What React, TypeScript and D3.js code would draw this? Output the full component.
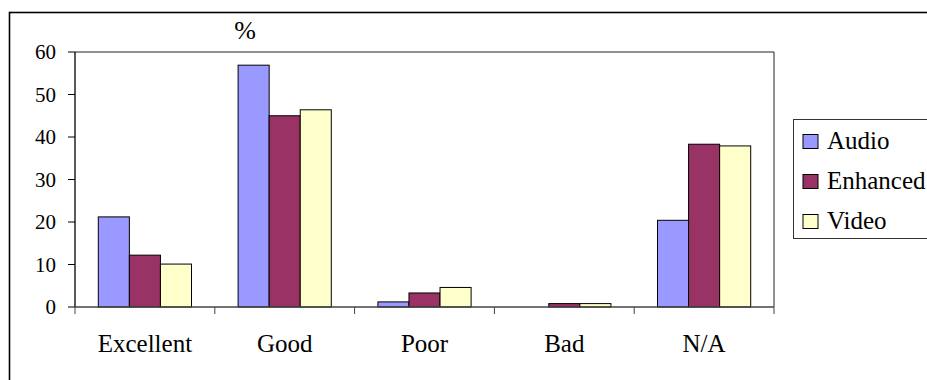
import React from 'react'
import * as d3 from 'd3'

const categories = ['Excellent', 'Good', 'Poor', 'Bad', 'N/A']
const seriesNames = ['Audio', 'Enhanced', 'Video']
const audio = [21.2, 56.9, 1.2, 0, 20.4]
const enhanced = [12.2, 45.0, 3.3, 0.8, 38.3]
const video = [10.1, 46.4, 4.6, 0.8, 37.9]
const yTicks = [0, 10, 20, 30, 40, 50, 60]
const colors = ['#9999FF', '#993366', '#FFFFCC']

const W = 927
const H = 380
const plot = { left: 75, top: 52, right: 774, bottom: 307 }
const font = "'Liberation Serif', 'Times New Roman', Times, serif"

const App: React.FC = () => {
  const values = [audio, enhanced, video]

  const x = d3
    .scaleBand<string>()
    .domain(categories)
    .range([plot.left, plot.right])
    .paddingInner(0)
    .paddingOuter(0)

  const step = x.step()
  const barW = step / 4.5 // excel gap width 150%

  const inner = d3
    .scaleBand<string>()
    .domain(seriesNames)
    .range([0, barW * 3])

  const y = d3.scaleLinear().domain([0, 60]).range([plot.bottom, plot.top])

  const catTicks = d3.range(categories.length + 1).map((i) => plot.left + i * step)

  const txt = { fontFamily: font }

  return (
    <svg
      width={W}
      height={H}
      style={{ position: 'fixed', left: 0, top: 0, background: '#fff', fontFamily: font }}
    >
      {/* chart frame, clipped by the window on right and bottom */}
      <rect x={9.5} y={12.5} width={W + 20} height={H + 20} fill="#fff" stroke="#000" strokeWidth={1.6} />

      <text x={245} y={39} fontSize={26} textAnchor="middle" fill="#000" style={txt}>%</text>

      {/* plot area border top / right */}
      <line x1={plot.left} x2={plot.right} y1={plot.top} y2={plot.top} stroke="#222" strokeWidth={1} />
      <line x1={plot.right} x2={plot.right} y1={plot.top} y2={plot.bottom} stroke="#222" strokeWidth={1} />

      {/* bars */}
      {categories.map((c, ci) => {
        const x0 = (x(c) ?? 0) + (step - barW * 3) / 2
        return (
          <g key={c}>
            {seriesNames.map((s, si) => {
              const v = values[si][ci]
              if (v <= 0) return null
              return (
                <rect
                  key={s}
                  x={x0 + (inner(s) ?? 0)}
                  y={y(v)}
                  width={barW}
                  height={plot.bottom - y(v)}
                  fill={colors[si]}
                  stroke="#000"
                  strokeWidth={1}
                />
              )
            })}
          </g>
        )
      })}

      {/* y axis */}
      <line x1={plot.left} x2={plot.left} y1={plot.top} y2={plot.bottom} stroke="#000" strokeWidth={1.3} />
      {yTicks.map((t) => (
        <g key={t}>
          <line x1={plot.left - 7} x2={plot.left} y1={y(t)} y2={y(t)} stroke="#000" strokeWidth={1} />
          <text x={56} y={y(t) + 7} fontSize={21} textAnchor="end" fill="#000" style={txt}>{t}</text>
        </g>
      ))}

      {/* x axis */}
      <line x1={plot.left} x2={plot.right} y1={plot.bottom} y2={plot.bottom} stroke="#444" strokeWidth={1.3} />
      {catTicks.map((t, i) => (
        <line key={i} x1={t} x2={t} y1={plot.bottom} y2={plot.bottom + 7} stroke="#444" strokeWidth={1} />
      ))}
      {categories.map((c) => (
        <text key={c} x={(x(c) ?? 0) + step / 2} y={352} fontSize={25} textAnchor="middle" fill="#000" style={txt}>{c}</text>
      ))}

      {/* legend */}
      <rect x={793.5} y={119.5} width={150} height={119} fill="#fff" stroke="#333" strokeWidth={1} />
      {seriesNames.map((s, i) => {
        const base = 148.5 + i * 40
        return (
          <g key={s}>
            <rect x={803} y={base - 14} width={15} height={14} fill={colors[i]} stroke="#000" strokeWidth={1} />
            <text x={827} y={base} fontSize={25} fill="#000" style={txt}>{s}</text>
          </g>
        )
      })}
    </svg>
  )
}

export default App
